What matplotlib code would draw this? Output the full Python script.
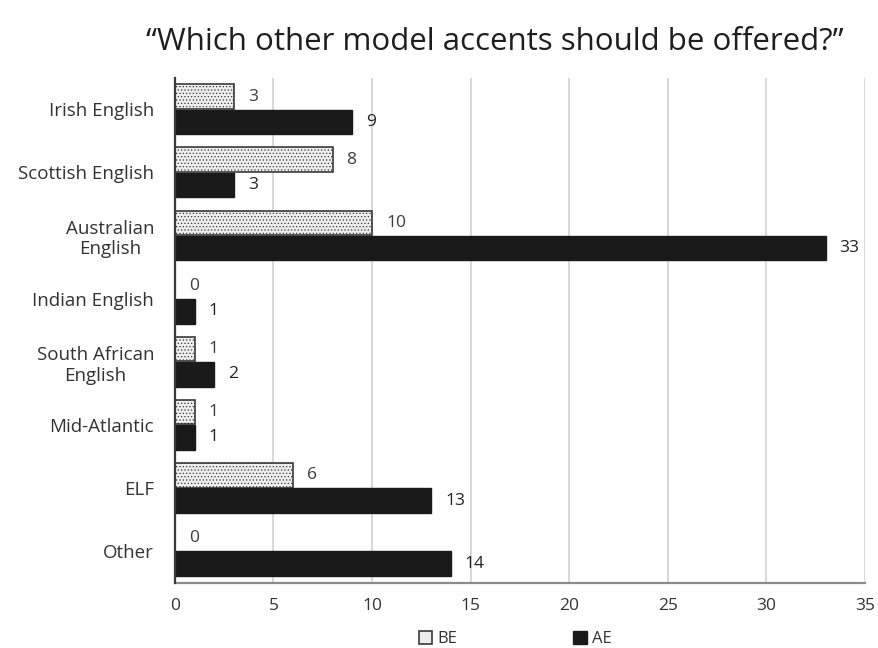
import matplotlib.pyplot as plt
from matplotlib.patches import Patch

# survey answers per accent, BE and AE groups
accents = ["Irish English", "Scottish English", "Australian\nEnglish", "Indian English",
           "South African\nEnglish", "Mid-Atlantic", "ELF", "Other"]
be_counts = [3, 8, 10, 0, 1, 1, 6, 0]
ae_counts = [9, 3, 33, 1, 2, 1, 13, 14]
x_ticks = [0, 5, 10, 15, 20, 25, 30, 35]

plt.rcParams['font.family'] = ['Open Sans', 'DejaVu Sans']
plt.rcParams['hatch.color'] = '#d2d2d2'
plt.rcParams['hatch.linewidth'] = 0.5

fig = plt.figure(figsize=(8.79, 6.48), dpi=100)
ax = fig.add_axes([0.199, 0.101, 0.785, 0.779])

pos = list(range(len(accents)))
h = 0.39
be_y = [p - h / 2 - 0.005 for p in pos]
ae_y = [p + h / 2 + 0.005 for p in pos]

ax.barh(be_y, be_counts, height=h, color='#ededed', edgecolor='#3a3a3a',
        linewidth=1.2, hatch='.....', zorder=3)
ax.barh(ae_y, ae_counts, height=h, color='#1a1a1a', edgecolor='#1a1a1a',
        linewidth=1.0, zorder=3)

for y, v in zip(be_y, be_counts):
    ax.annotate(str(v), (v, y), xytext=(10, 0), textcoords='offset points',
                ha='left', va='center', fontsize=12.5, color='#3c3c3c')
for y, v in zip(ae_y, ae_counts):
    ax.annotate(str(v), (v, y), xytext=(10, 0), textcoords='offset points',
                ha='left', va='center', fontsize=12.5, color='#222222')

ax.set_xlim(0, 35)
ax.set_ylim(len(accents) - 0.5, -0.5)
ax.set_xticks(x_ticks)
ax.set_yticks(pos)
ax.set_yticklabels(accents, multialignment='center')
ax.tick_params(axis='both', length=0, colors='#333333')
ax.tick_params(axis='x', pad=11, labelsize=12.5)
ax.tick_params(axis='y', pad=15, labelsize=13.5)

ax.grid(axis='x', color='#d9d9d9', linewidth=1.5, zorder=0)
ax.set_axisbelow(True)
for s in ['top', 'right']:
    ax.spines[s].set_visible(False)
ax.spines['left'].set_color('#3a3a3a')
ax.spines['left'].set_linewidth(1.6)
ax.spines['left'].set_zorder(4)
ax.spines['bottom'].set_color('#8a8a8a')
ax.spines['bottom'].set_linewidth(1.6)

fig.text(0.563, 0.935, "\u201cWhich other model accents should be offered?\u201d",
         ha='center', va='center', fontsize=22.5, color='#1e1e1e')

handles = [Patch(facecolor='#ededed', edgecolor='#3a3a3a', linewidth=1.2, label='BE'),
           Patch(facecolor='#1a1a1a', edgecolor='#1a1a1a', label='AE')]
fig.legend(handles=handles, loc='center', bbox_to_anchor=(0.586, 0.014),
           ncol=2, frameon=False, fontsize=12, handlelength=0.8, handleheight=0.8,
           handletextpad=0.3, columnspacing=7.0, labelcolor='#333333')

fig.savefig('out.png', dpi=100)
